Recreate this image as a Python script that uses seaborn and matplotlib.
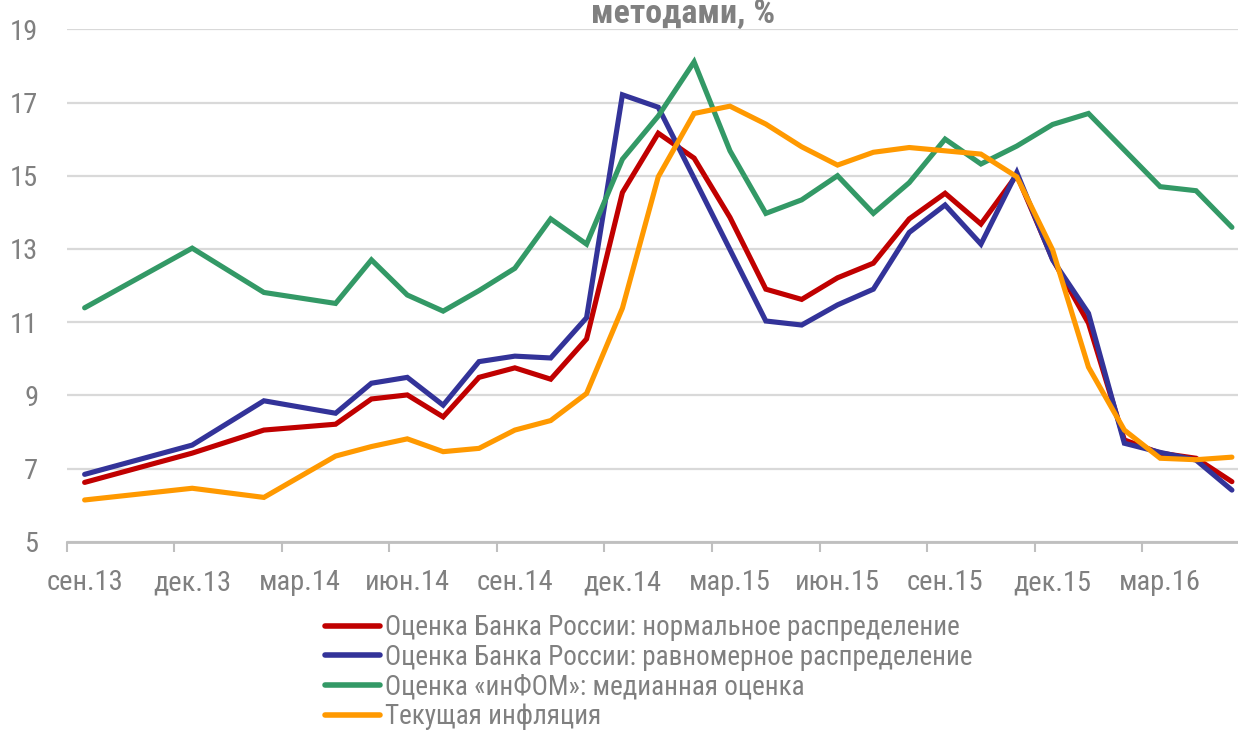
import numpy as np
import pandas as pd
import matplotlib
matplotlib.use("Agg")
import matplotlib.pyplot as plt
from matplotlib import font_manager
import seaborn as sns

# ---- data ----
months = ["2013-09", "2013-12", "2014-02", "2014-04", "2014-05", "2014-06", "2014-07",
          "2014-08", "2014-09", "2014-10", "2014-11", "2014-12", "2015-01", "2015-02",
          "2015-03", "2015-04", "2015-05", "2015-06", "2015-07", "2015-08", "2015-09",
          "2015-10", "2015-11", "2015-12", "2016-01", "2016-02", "2016-03", "2016-04",
          "2016-05"]

cbr_normal = [6.62, 7.42, 8.05, 8.21, 8.90, 9.01, 8.41, 9.49, 9.75, 9.44, 10.54, 14.54,
              16.16, 15.48, 13.86, 11.90, 11.62, 12.21, 12.61, 13.82, 14.52, 13.68, 15.02,
              12.72, 10.97, 7.78, 7.42, 7.28, 6.64]
cbr_uniform = [6.84, 7.64, 8.85, 8.51, 9.33, 9.49, 8.73, 9.92, 10.07, 10.02, 11.12, 17.21,
               16.87, 14.93, 12.98, 11.03, 10.92, 11.47, 11.90, 13.45, 14.20, 13.13, 15.09,
               12.70, 11.24, 7.69, 7.44, 7.23, 6.41]
infom_median = [11.39, 13.02, 11.81, 11.51, 12.70, 11.74, 11.30, 11.86, 12.47, 13.82, 13.13,
                15.45, 16.63, 18.11, 15.68, 13.97, 14.34, 15.00, 13.97, 14.81, 16.00, 15.32,
                15.81, 16.40, 16.70, 15.70, 14.70, 14.59, 13.59]
current_infl = [6.14, 6.46, 6.21, 7.34, 7.60, 7.81, 7.46, 7.55, 8.05, 8.31, 9.05, 11.38,
                14.97, 16.70, 16.90, 16.41, 15.79, 15.29, 15.64, 15.77, 15.68, 15.59, 14.97,
                12.97, 9.77, 8.05, 7.28, 7.24, 7.31]

series_names = ["Оценка Банка России: нормальное распределение",
                "Оценка Банка России: равномерное распределение",
                "Оценка «инФОМ»: медианная оценка",
                "Текущая инфляция"]
series_colors = ["#C00000", "#333399", "#339966", "#FF9900"]

tick_labels = ["сен.13", "дек.13", "мар.14", "июн.14", "сен.14", "дек.14",
               "мар.15", "июн.15", "сен.15", "дек.15", "мар.16"]
title_text = "методами, %"

# ---- build table ----
periods = pd.PeriodIndex(months, freq="M")
start = periods[0]
idx = np.array([(p - start).n for p in periods])
frames = []
for name, vals in zip(series_names, [cbr_normal, cbr_uniform, infom_median, current_infl]):
    frames.append(pd.DataFrame({"m": idx, "value": vals, "series": name}))
df = pd.concat(frames, ignore_index=True)

# ---- style ----
sns.set_theme(style="white")
installed = {f.name for f in font_manager.fontManager.ttflist}
fams = [f for f in ["Roboto Condensed", "Liberation Sans", "DejaVu Sans"] if f in installed]
plt.rcParams["font.family"] = fams
gray = "#808080"

W, H = 1238, 731
fig = plt.figure(figsize=(W / 100, H / 100), dpi=100)
ax = fig.add_axes([66.7 / W, 1 - 541.7 / H, 1 - 66.7 / W, (541.7 - 29.3) / H])

sns.lineplot(data=df, x="m", y="value", hue="series", hue_order=series_names,
             palette=dict(zip(series_names, series_colors)), linewidth=3.7,
             ax=ax, legend=True, sort=True)
for ln in ax.lines:
    ln.set_solid_capstyle("round")
    ln.set_solid_joinstyle("miter")
    ln.set_clip_on(False)

ax.set_ylim(5, 19)
ax.set_yticks(np.arange(5, 20, 2))
ax.set_xlim(-0.5, 32.17)

n_lab = len(tick_labels)
major = np.arange(n_lab) * 3 - 0.5
ax.set_xticks(major)
ax.set_xticklabels([""] * n_lab)
ax.set_xticks(np.arange(n_lab) * 3, minor=True)
ax.set_xticklabels(tick_labels, minor=True)

ax.tick_params(axis="x", which="major", length=7, width=1.5, color="#BFBFBF", direction="out",
               bottom=True)
ax.tick_params(axis="x", which="minor", length=0, pad=20, labelsize=20.5, labelcolor=gray)
ax.tick_params(axis="y", length=0, pad=20.5, labelsize=20.5, labelcolor=gray)

ax.grid(axis="y", color="#D9D9D9", linewidth=1.6)
ax.grid(axis="x", visible=False)
ax.set_axisbelow(True)
for s in ["top", "right", "left"]:
    ax.spines[s].set_visible(False)
ax.spines["bottom"].set_color("#BFBFBF")
ax.spines["bottom"].set_linewidth(2)
ax.set_xlabel("")
ax.set_ylabel("")

handles, labels = ax.get_legend_handles_labels()
ax.get_legend().remove()
leg = fig.legend(handles, labels, loc="upper left",
                 bbox_to_anchor=(325 / W, 1 - 614 / H), frameon=False,
                 fontsize=19.5, handlelength=2.03, handletextpad=0.18,
                 labelspacing=0.1, borderpad=0, borderaxespad=0)
for t in leg.get_texts():
    t.set_color(gray)
for h in leg.get_lines():
    h.set_linewidth(4)
    h.set_solid_capstyle("round")

fig.text(683 / W, 1 - 23 / H, title_text, ha="center", va="baseline",
         fontsize=24.5, fontweight="bold", color=gray)

fig.savefig("out.png", dpi=100, facecolor="white")
